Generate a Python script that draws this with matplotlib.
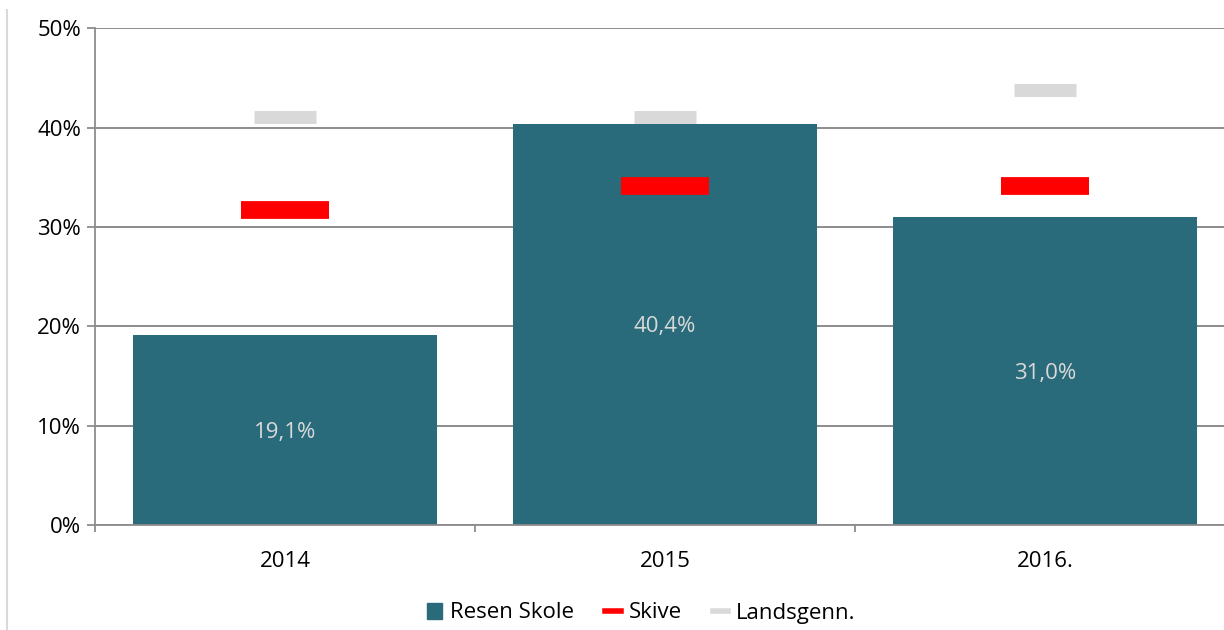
import numpy as np
import matplotlib.pyplot as plt
from matplotlib.patches import Patch
from matplotlib.lines import Line2D

plt.rcParams['font.family'] = ['Open Sans', 'DejaVu Sans']

# data
years = ['2014', '2015', '2016.']
resen = [19.1, 40.4, 31.0]
skive = [31.7, 34.1, 34.1]
lands = [41.1, 41.1, 43.8]
labels = ['19,1%', '40,4%', '31,0%']

teal = '#296B7B'
grid_c = '#8C8C8C'

fig = plt.figure(figsize=(12.24, 6.3), dpi=100)
ax = fig.add_axes([95 / 1224, 105 / 630, 1140 / 1224, 496.7 / 630])

x = np.arange(len(years))
ax.bar(x, resen, width=0.8, color=teal, zorder=2)
ax.plot(x, lands, ls='none', marker='_', ms=45, mew=9.3, color='#D9D9D9', zorder=3)
ax.plot(x, skive, ls='none', marker='_', ms=64, mew=12.8, color='#FF0000', zorder=3)

for xi, v, t in zip(x, resen, labels):
    ax.text(xi, v / 2, t, ha='center', va='center_baseline', color='#D9D9D9', fontsize=16)

ax.set_xlim(-0.5, 2.5)
ax.set_ylim(0, 50)
ax.set_yticks([0, 10, 20, 30, 40, 50])
ax.set_yticklabels(['0%', '10%', '20%', '30%', '40%', '50%'])
ax.set_xticks(x)
ax.set_xticklabels(years)
ax.set_xticks([-0.5, 0.5, 1.5, 2.5], minor=True)
ax.tick_params(axis='x', which='major', length=0, pad=19, labelsize=16)
ax.tick_params(axis='x', which='minor', length=5, width=1.3, color=grid_c)
ax.tick_params(axis='y', length=6, width=1.3, color=grid_c, labelsize=16, pad=4)

ax.grid(axis='y', color=grid_c, lw=1.4, zorder=0)
ax.set_axisbelow(True)
for s in ['top', 'right']:
    ax.spines[s].set_visible(False)
for s in ['left', 'bottom']:
    ax.spines[s].set_color(grid_c)
    ax.spines[s].set_linewidth(1.3)

# thin border on the left side of the picture
fig.add_artist(Line2D([7 / 1224, 7 / 1224], [0, 620 / 630], color='#D9D9D9', lw=1.5))

handles = [Patch(color=teal),
           Line2D([0], [0], color='#FF0000', lw=4),
           Line2D([0], [0], color='#D9D9D9', lw=4)]
fig.legend(handles, ['Resen Skole', 'Skive', 'Landsgenn.'], loc='center',
           bbox_to_anchor=(641 / 1224, 17 / 630), ncol=3, frameon=False,
           fontsize=16, handlelength=0.7, handleheight=0.7, handletextpad=0.35,
           columnspacing=1.4)

fig.savefig('out.png', dpi=100)
